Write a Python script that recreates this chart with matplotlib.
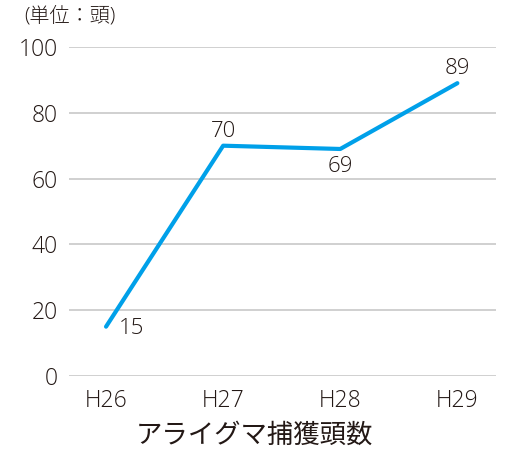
import matplotlib
matplotlib.use("Agg")
import matplotlib.pyplot as plt

plt.rcParams['font.family'] = ['Open Sans', 'Noto Sans CJK JP', 'DejaVu Sans']
plt.rcParams['font.weight'] = 'light'

years = ["H26", "H27", "H28", "H29"]
counts = [15, 70, 69, 89]
# label placement: above / below the point
label_pos = ["right", "above", "below", "above"]

text_color = "#231815"
line_color = "#00A0E9"

fig = plt.figure(figsize=(5.09, 4.5), dpi=100)
ax = fig.add_axes([0.1356, 0.1644, 0.8389, 0.7312])

x = list(range(len(years)))
ax.plot(x, counts, color=line_color, linewidth=3, solid_capstyle='round', zorder=3)

for xi, v, pos in zip(x, counts, label_pos):
    if pos == "above":
        ax.annotate(str(v), (xi, v), xytext=(0, 3), textcoords="offset points",
                    ha="center", va="bottom", fontsize=16, color=text_color)
    elif pos == "below":
        ax.annotate(str(v), (xi, v), xytext=(0, -5), textcoords="offset points",
                    ha="center", va="top", fontsize=16, color=text_color)
    else:
        ax.annotate(str(v), (xi, v), xytext=(9, -1), textcoords="offset points",
                    ha="left", va="center", fontsize=16, color=text_color)

ax.set_ylim(0, 100)
ax.set_xlim(-0.316, 3.33)
ax.set_yticks(range(0, 101, 20))
ax.set_xticks(x)
ax.set_xticklabels(years)
ax.grid(axis='y', color="#c8c8c8", linewidth=1.2)
ax.set_axisbelow(True)
for s in ax.spines.values():
    s.set_visible(False)
ax.tick_params(length=0, labelsize=16.5, colors=text_color, pad=8)
ax.tick_params(axis='x', pad=9)

ax.set_xlabel("アライグマ捕獲頭数", fontsize=19, color=text_color, labelpad=4)
ax.xaxis.set_label_coords(0.434, -0.145)
fig.text(0.048, 0.985, "(単位：頭)", fontsize=14.5, color=text_color, ha="left", va="top")

fig.savefig("out.png", dpi=100)
